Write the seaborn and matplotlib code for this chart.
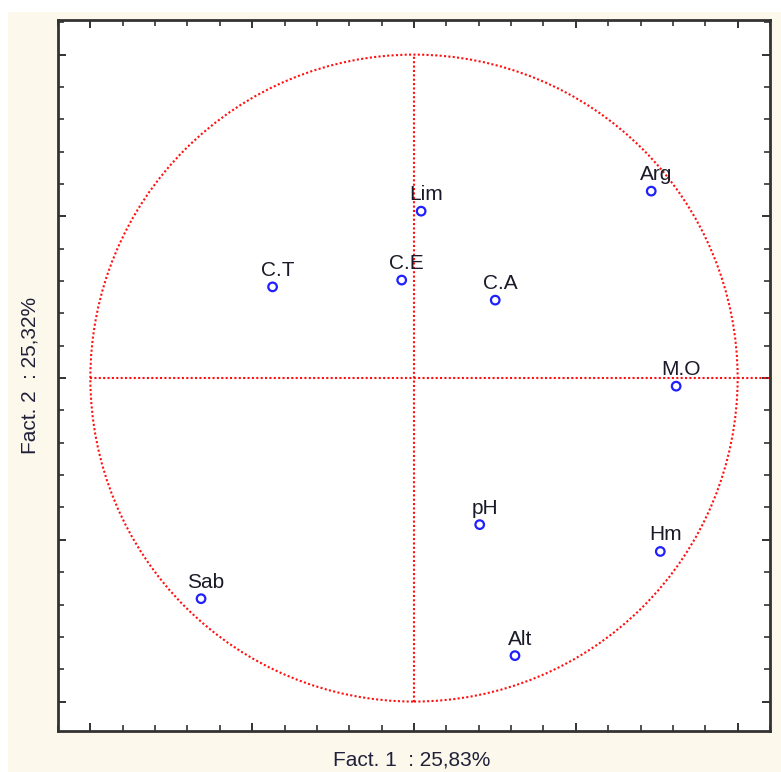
import matplotlib
matplotlib.use('Agg')
import matplotlib.pyplot as plt
from matplotlib.patches import Circle, Rectangle
from matplotlib.ticker import MultipleLocator
import seaborn as sns
import pandas as pd

# variables du cercle des corrélations
variables = ['Lim', 'C.E', 'C.T', 'C.A', 'Arg', 'M.O', 'pH', 'Hm', 'Alt', 'Sab']
fact1 = [0.022, -0.038, -0.437, 0.251, 0.733, 0.810, 0.203, 0.761, 0.312, -0.658]
fact2 = [0.516, 0.303, 0.282, 0.241, 0.578, -0.025, -0.453, -0.536, -0.858, -0.682]

xlabel = 'Fact. 1  : 25,83%'
ylabel = 'Fact. 2  : 25,32%'

df = pd.DataFrame({'var': variables, 'f1': fact1, 'f2': fact2})

sns.set_theme(style='ticks')
plt.rcParams['font.family'] = ['Liberation Sans', 'DejaVu Sans']

fig = plt.figure(figsize=(7.81, 7.72), dpi=100)
fig.patch.set_facecolor('white')
# fond crème façon Statistica
fig.patches.append(Rectangle((8 / 781, 0), 1, 1 - 12 / 772, transform=fig.transFigure,
                             facecolor='#fdf8ec', edgecolor='none', zorder=-10))

ax = fig.add_axes([58 / 781, 1 - 731 / 772, 712 / 781, 711 / 772])
ax.set_facecolor('white')

red = '#ff1010'
dots = (0, (1, 1.1))
ax.add_patch(Circle((0, 0), 1.0, fill=False, edgecolor=red, lw=1.5, ls=dots))
ax.plot([-1, 1.1], [0, 0], color=red, lw=1.5, ls=dots)
ax.plot([0, 0], [-1, 1], color=red, lw=1.5, ls=dots)

sns.scatterplot(data=df, x='f1', y='f2', ax=ax, marker='o', s=38,
                facecolors='none', edgecolor='#1f1fff', linewidth=1.6, zorder=5)

for _, r in df.iterrows():
    ax.annotate(r['var'], (r['f1'], r['f2']), xytext=(3.5, 8), textcoords='offset points',
                ha='center', va='baseline', fontsize=15, color='#1a1a28')

ax.set_xlim(-1.1, 1.1)
ax.set_ylim(-1.091, 1.107)
ax.xaxis.set_major_locator(MultipleLocator(0.5))
ax.xaxis.set_minor_locator(MultipleLocator(0.1))
ax.yaxis.set_major_locator(MultipleLocator(0.5))
ax.yaxis.set_minor_locator(MultipleLocator(0.1))
ax.tick_params(which='both', direction='in', top=True, right=True,
               labelbottom=False, labelleft=False, color='#222222')
ax.tick_params(which='major', length=6, width=1.3)
ax.tick_params(which='minor', length=4, width=1.1)

for s in ax.spines.values():
    s.set_linewidth(2)
    s.set_color('#333333')

ax.set_xlabel('')
ax.set_ylabel('')
fig.text(412 / 781, 1 - 760 / 772, xlabel, ha='center', va='center', fontsize=15, color='#20203a')
fig.text(30 / 781, 1 - 375 / 772, ylabel, ha='center', va='center', rotation=90,
         fontsize=15, color='#20203a')

fig.savefig('out.png', dpi=100, facecolor=fig.get_facecolor())
